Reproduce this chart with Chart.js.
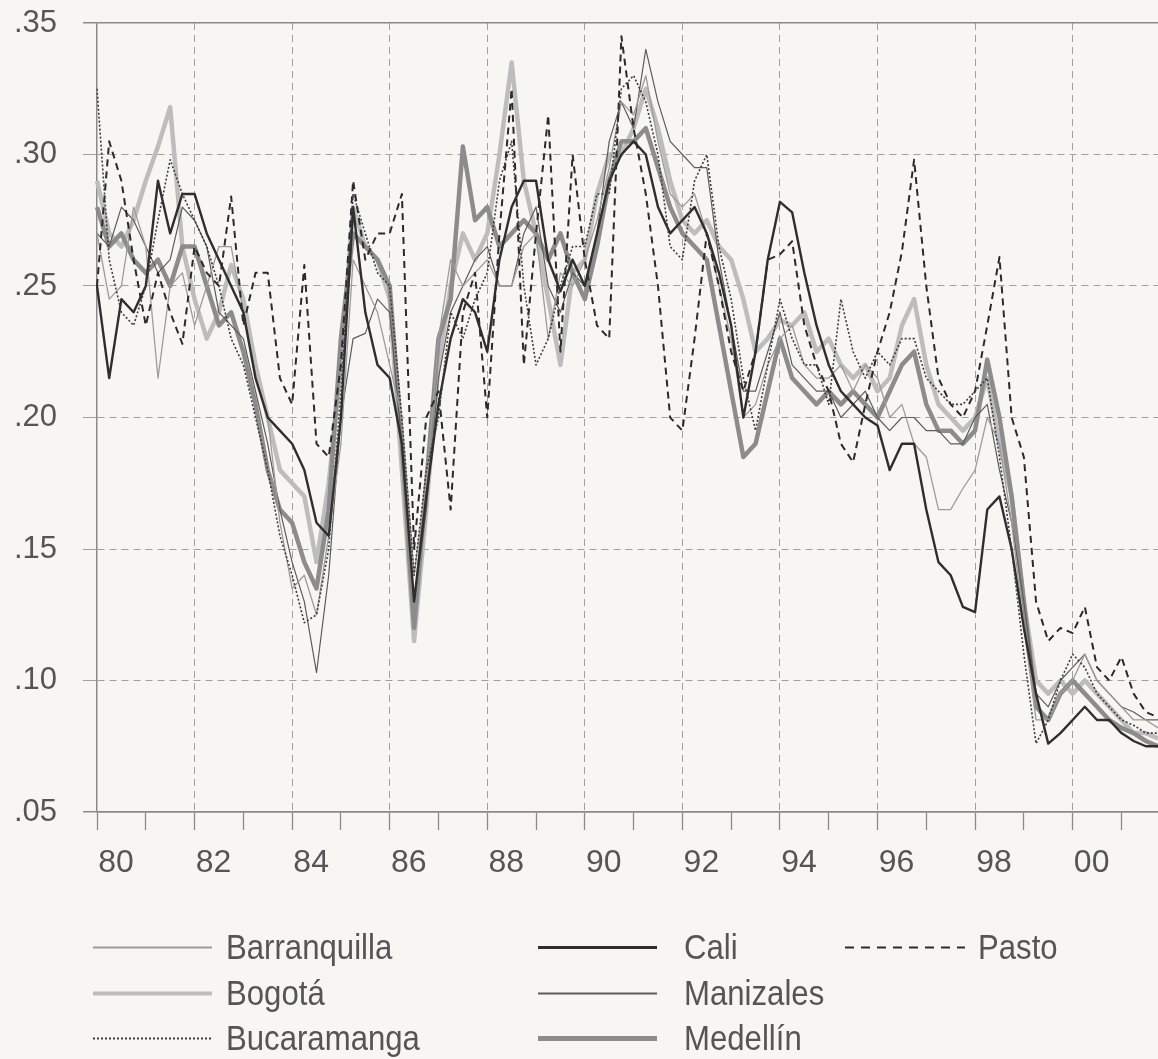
<!DOCTYPE html>
<html>
<head>
<meta charset="utf-8">
<script src="https://cdn.jsdelivr.net/npm/chart.js@4.4.1/dist/chart.umd.min.js"></script>
<style>
  html, body { margin: 0; padding: 0; background: #f7f6f2; }
  #wrap { position: relative; width: 1158px; height: 1059px; overflow: hidden; }
  #chart { position: absolute; left: 0; top: 0; }
  #samples { position: absolute; left: 0; top: 900px; }
  .leg { position: absolute; font-family: 'Liberation Sans Narrow', 'Liberation Sans', sans-serif; font-size: 35px; color: #555; line-height: 40px; white-space: nowrap; transform: scaleX(0.89); transform-origin: 0 50%; }
</style>
</head>
<body>
<div id="wrap">
  <canvas id="chart" width="1158" height="900"></canvas>
  <canvas id="samples" width="1158" height="159"></canvas>
</div>
<script>
// DATA (quarterly readings, 1980 Q1 .. 2001 Q4)
const years = [1980, 1981, 1982, 1983, 1984, 1985, 1986, 1987, 1988, 1989, 1990,
  1991, 1992, 1993, 1994, 1995, 1996, 1997, 1998, 1999, 2000, 2001];
const quarters = ['Q1', 'Q2', 'Q3', 'Q4'];
const yTicks = [0.05, 0.10, 0.15, 0.20, 0.25, 0.30, 0.35];

const barranquilla = [
  0.27, 0.245, 0.25, 0.28,   0.265, 0.215, 0.25, 0.255,  0.235, 0.25, 0.265, 0.265,
  0.24, 0.215, 0.2, 0.16,    0.135, 0.14, 0.125, 0.155,  0.19, 0.26, 0.25, 0.24,
  0.22, 0.2, 0.14, 0.175,    0.23, 0.26, 0.25, 0.255,    0.26, 0.25, 0.25, 0.265,
  0.27, 0.23, 0.255, 0.25,   0.26, 0.275, 0.295, 0.32,   0.315, 0.33, 0.305, 0.285,
  0.28, 0.285, 0.27, 0.25,   0.23, 0.2, 0.205, 0.22,     0.23, 0.235, 0.22, 0.215,
  0.215, 0.22, 0.21, 0.22,   0.215, 0.2, 0.205, 0.19,    0.185, 0.165, 0.165, 0.173,
  0.18, 0.2, 0.19, 0.16,     0.12, 0.085, 0.085, 0.095,  0.1, 0.11, 0.1, 0.095,
  0.09, 0.085, 0.085, 0.082
];
const bogota = [
  0.29, 0.27, 0.265, 0.275,  0.29, 0.303, 0.318, 0.265,  0.245, 0.23, 0.24, 0.258,
  0.245, 0.22, 0.2, 0.18,    0.175, 0.17, 0.145, 0.175,  0.22, 0.28, 0.265, 0.26,
  0.245, 0.18, 0.115, 0.165, 0.22, 0.25, 0.27, 0.26,     0.27, 0.3, 0.335, 0.29,
  0.27, 0.245, 0.22, 0.255,  0.26, 0.285, 0.3, 0.3,      0.31, 0.325, 0.31, 0.29,
  0.275, 0.27, 0.275, 0.265, 0.26, 0.245, 0.225, 0.23,   0.237, 0.235, 0.24, 0.225,
  0.23, 0.22, 0.215, 0.22,   0.21, 0.215, 0.235, 0.245,  0.22, 0.205, 0.2, 0.195,
  0.2, 0.215, 0.19, 0.17,    0.13, 0.1, 0.095, 0.1,      0.095, 0.1, 0.095, 0.09,
  0.085, 0.08, 0.08, 0.078
];
const bucaramanga = [
  0.325, 0.26, 0.24, 0.235,  0.25, 0.275, 0.298, 0.285,  0.275, 0.265, 0.25, 0.23,
  0.22, 0.2, 0.18, 0.155,    0.14, 0.122, 0.125, 0.15,   0.21, 0.285, 0.27, 0.255,
  0.25, 0.2, 0.14, 0.18,     0.2, 0.24, 0.23, 0.245,     0.255, 0.29, 0.305, 0.25,
  0.22, 0.23, 0.25, 0.265,   0.265, 0.285, 0.285, 0.325, 0.33, 0.32, 0.3, 0.265,
  0.26, 0.29, 0.3, 0.265,    0.245, 0.215, 0.195, 0.22,  0.245, 0.23, 0.22, 0.22,
  0.205, 0.245, 0.225, 0.215, 0.225, 0.22, 0.23, 0.23,   0.215, 0.21, 0.205, 0.205,
  0.21, 0.215, 0.185, 0.15,  0.11, 0.076, 0.085, 0.1,    0.11, 0.105, 0.095, 0.09,
  0.085, 0.083, 0.08, 0.08
];
const cali = [
  0.25, 0.215, 0.245, 0.24,  0.25, 0.29, 0.27, 0.285,    0.285, 0.27, 0.26, 0.25,
  0.24, 0.215, 0.2, 0.195,   0.19, 0.18, 0.16, 0.155,    0.2, 0.28, 0.24, 0.22,
  0.215, 0.19, 0.13, 0.17,   0.205, 0.23, 0.245, 0.24,   0.225, 0.26, 0.28, 0.29,
  0.29, 0.26, 0.248, 0.26,   0.25, 0.27, 0.29, 0.3,      0.305, 0.3, 0.28, 0.27,
  0.275, 0.28, 0.27, 0.255,  0.235, 0.2, 0.225, 0.26,    0.282, 0.278, 0.255, 0.235,
  0.22, 0.21, 0.205, 0.2,    0.197, 0.18, 0.19, 0.19,    0.165, 0.145, 0.14, 0.128,
  0.126, 0.165, 0.17, 0.15,  0.12, 0.095, 0.076, 0.08,   0.085, 0.09, 0.085, 0.085,
  0.08, 0.077, 0.075, 0.075
];
const manizales = [
  0.27, 0.265, 0.28, 0.275,  0.265, 0.255, 0.26, 0.28,   0.275, 0.265, 0.24, 0.235,
  0.23, 0.21, 0.19, 0.165,   0.145, 0.13, 0.103, 0.14,   0.2, 0.23, 0.232, 0.245,
  0.24, 0.19, 0.13, 0.165,   0.215, 0.24, 0.25, 0.26,    0.265, 0.25, 0.25, 0.27,
  0.28, 0.25, 0.24, 0.255,   0.25, 0.27, 0.305, 0.32,    0.31, 0.34, 0.32, 0.305,
  0.3, 0.295, 0.295, 0.26,   0.235, 0.21, 0.21, 0.225,   0.24, 0.22, 0.215, 0.21,
  0.21, 0.2, 0.205, 0.21,    0.2, 0.195, 0.2, 0.2,       0.195, 0.195, 0.19, 0.19,
  0.2, 0.205, 0.18, 0.16,    0.13, 0.095, 0.09, 0.1,     0.105, 0.11, 0.1, 0.095,
  0.09, 0.088, 0.085, 0.085
];
const medellin = [
  0.28, 0.265, 0.27, 0.26,   0.255, 0.26, 0.25, 0.265,   0.265, 0.25, 0.235, 0.24,
  0.225, 0.205, 0.18, 0.165, 0.16, 0.145, 0.135, 0.165,  0.23, 0.27, 0.265, 0.26,
  0.25, 0.19, 0.12, 0.175,   0.23, 0.245, 0.303, 0.275,  0.28, 0.265, 0.27, 0.275,
  0.27, 0.26, 0.27, 0.255,   0.245, 0.265, 0.29, 0.305,  0.305, 0.31, 0.295, 0.28,
  0.27, 0.265, 0.26, 0.235,  0.21, 0.185, 0.19, 0.21,    0.23, 0.215, 0.21, 0.205,
  0.21, 0.205, 0.21, 0.205,  0.2, 0.21, 0.22, 0.225,     0.205, 0.195, 0.195, 0.19,
  0.195, 0.222, 0.2, 0.17,   0.13, 0.09, 0.085, 0.095,   0.1, 0.095, 0.09, 0.085,
  0.082, 0.08, 0.077, 0.075
];
const pasto = [
  0.25, 0.305, 0.29, 0.26,   0.235, 0.255, 0.24, 0.228,  0.265, 0.255, 0.25, 0.284,
  0.235, 0.255, 0.255, 0.215, 0.205, 0.258, 0.19, 0.185, 0.22, 0.29, 0.26, 0.27,
  0.27, 0.285, 0.15, 0.2,    0.21, 0.165, 0.24, 0.255,   0.2, 0.27, 0.325, 0.22,
  0.27, 0.315, 0.225, 0.3,   0.26, 0.235, 0.23, 0.345,   0.31, 0.285, 0.25, 0.2,
  0.195, 0.23, 0.27, 0.25,   0.225, 0.21, 0.225, 0.26,   0.262, 0.267, 0.235, 0.22,
  0.21, 0.19, 0.183, 0.205,  0.225, 0.24, 0.263, 0.298,  0.25, 0.215, 0.205, 0.2,
  0.21, 0.235, 0.261, 0.2,   0.185, 0.13, 0.115, 0.12,   0.118, 0.128, 0.105, 0.1,
  0.109, 0.095, 0.088, 0.086
];

const FONT = "'Liberation Sans', Arial, sans-serif";
const TEXT = '#555';
const AXIS = '#8a8a8a';
const GRID = '#a0a0a0';

const labels = [];
years.forEach(y => quarters.forEach(q => labels.push(y + q)));

function yearOf(i) { return years[Math.floor(i / 4)]; }
function isGridYear(i) { return i % 4 === 0 && yearOf(i) % 2 === 0 && yearOf(i) > years[0]; }
function isEdge(c) {
  return c.tick && (Math.abs(c.tick.value - yTicks[0]) < 1e-6 || Math.abs(c.tick.value - yTicks[yTicks.length - 1]) < 1e-6);
}

const series = [
  { label: 'Barranquilla', data: barranquilla, color: '#9c9c9c', width: 1.3, dash: [], order: 1 },
  { label: 'Bogotá', data: bogota, color: '#bdbdbd', width: 4.5, dash: [], order: 3 },
  { label: 'Bucaramanga', data: bucaramanga, color: '#3c3c3c', width: 1.6, dash: [2, 2], order: 0 },
  { label: 'Cali', data: cali, color: '#2e2e2e', width: 2.4, dash: [], order: 0 },
  { label: 'Manizales', data: manizales, color: '#5c5c5c', width: 1.2, dash: [], order: 1 },
  { label: 'Medellín', data: medellin, color: '#8c8c8c', width: 4.5, dash: [], order: 2 },
  { label: 'Pasto', data: pasto, color: '#2a2a2a', width: 2, dash: [7, 5], order: 0 }
];

new Chart(document.getElementById('chart'), {
  type: 'line',
  data: {
    labels: labels,
    datasets: series.map(s => ({
      label: s.label,
      data: s.data,
      borderColor: s.color,
      borderWidth: s.width,
      borderDash: s.dash,
      borderJoinStyle: 'round',
      order: s.order,
      pointRadius: 0,
      tension: 0,
      fill: false
    }))
  },
  options: {
    responsive: false,
    animation: false,
    devicePixelRatio: 1,
    layout: { padding: { top: 23, right: 0, left: 0, bottom: 0 } },
    plugins: { legend: { display: false }, tooltip: { enabled: false } },
    scales: {
      x: {
        type: 'category',
        offset: false,
        grid: {
          offset: false,
          color: c => isGridYear(c.index) ? GRID : 'rgba(0,0,0,0)',
          tickColor: c => c.index % 4 === 0 ? AXIS : 'rgba(0,0,0,0)',
          tickLength: 18,
          lineWidth: 1,
          tickWidth: 1.3
        },
        border: { color: AXIS, width: 1.5, dash: c => c.type === 'tick' ? [7, 5] : [] },
        ticks: {
          autoSkip: false,
          maxRotation: 0,
          minRotation: 0,
          labelOffset: 19,
          padding: 14,
          color: TEXT,
          font: { size: 32, family: FONT },
          callback: (v, i) => (i % 4 === 0 && yearOf(i) % 2 === 0) ? String(yearOf(i)).slice(2) : ''
        },
        afterFit: s => { s.height = 88; s.paddingLeft = 0; s.paddingRight = 0; }
      },
      y: {
        min: yTicks[0],
        max: yTicks[yTicks.length - 1],
        afterBuildTicks: s => { s.ticks = yTicks.map(v => ({ value: v })); },
        grid: {
          color: c => isEdge(c) ? AXIS : GRID,
          lineWidth: c => isEdge(c) ? 1.5 : 1,
          tickLength: 14
        },
        border: { color: AXIS, width: 1.5, dash: c => (c.type === 'tick' && !isEdge(c)) ? [7, 5] : [] },
        ticks: {
          padding: 26,
          color: TEXT,
          font: { size: 31, family: FONT },
          callback: v => v.toFixed(2).replace(/^0/, '')
        },
        afterFit: s => { s.width = 97; s.paddingTop = 0; s.paddingBottom = 0; }
      }
    }
  }
});

// legend in three columns, as in the original figure
const legendCols = [
  { x1: 93, x2: 212, tx: 226 },
  { x1: 538, x2: 657, tx: 684 },
  { x1: 845, x2: 965, tx: 978 }
];
const legendRows = [947, 993, 1038];
const legendSlots = [[0, 0], [0, 1], [0, 2], [1, 0], [1, 1], [1, 2], [2, 0]];
const legendWidth = { 'Bogotá': 4, 'Medellín': 5, 'Cali': 3, 'Barranquilla': 1.8, 'Manizales': 1.8, 'Bucaramanga': 2, 'Pasto': 2.2 };

const sc = document.getElementById('samples').getContext('2d');
const wrap = document.getElementById('wrap');
series.forEach((s, k) => {
  const col = legendCols[legendSlots[k][0]];
  const y = legendRows[legendSlots[k][1]];
  sc.save();
  sc.strokeStyle = s.color;
  sc.lineWidth = legendWidth[s.label];
  sc.setLineDash(s.label === 'Pasto' ? [9, 7] : s.dash);
  sc.beginPath();
  sc.moveTo(col.x1, y - 900 + 0.5);
  sc.lineTo(col.x2, y - 900 + 0.5);
  sc.stroke();
  sc.restore();
  const t = document.createElement('div');
  t.className = 'leg';
  t.textContent = s.label;
  t.style.left = col.tx + 'px';
  t.style.top = (y - 20) + 'px';
  wrap.appendChild(t);
});
</script>
</body>
</html>
